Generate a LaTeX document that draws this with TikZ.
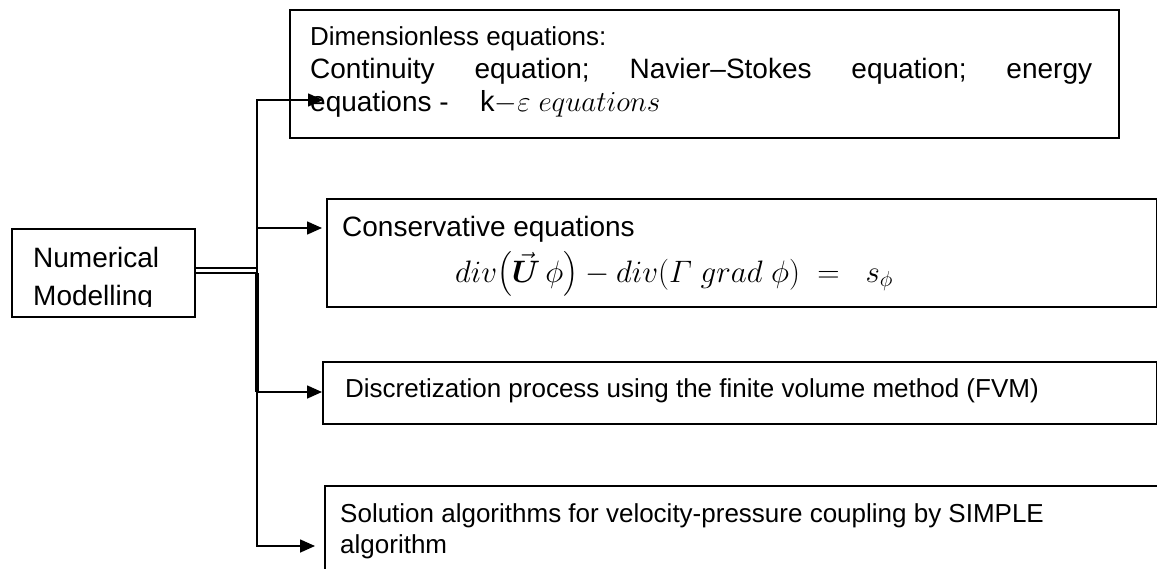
\RequirePackage{fix-cm}
\documentclass[tikz,border=0pt]{standalone}
\usepackage{amsmath}
\usepackage{fontspec}
\setmainfont{Liberation Sans}
\usetikzlibrary{arrows.meta}
\begin{document}
\begin{tikzpicture}[x=1pt,y=-1pt,
  box/.style={draw,line width=1.6pt,rectangle,inner sep=0pt,anchor=north west},
  txt/.style={anchor=base west,inner sep=0pt,font=\fontsize{28}{34}\selectfont},
  stxt/.style={anchor=base west,inner sep=0pt,font=\fontsize{26}{32}\selectfont},
  conn/.style={line width=1.6pt},
  trunk/.style={line width=3.6pt},
  arr/.style={line width=1.6pt,-{Triangle[length=15pt,width=13pt]}}]
\useasboundingbox (0,0) rectangle (1157,568);
\clip (0,0) rectangle (1157,568);
% boxes
\node[box,minimum width=183pt,minimum height=88pt] (num) at (11,228) {};
\node[box,minimum width=829pt,minimum height=128pt] (b1) at (289,9) {};
\node[box,minimum width=830pt,minimum height=108pt] (b2) at (326,198) {};
\node[box,minimum width=834pt,minimum height=62pt] (b3) at (322,361) {};
\node[box,minimum width=860pt,minimum height=110pt] (b4) at (324,485) {};
% texts
\begin{scope}
\clip (11,228) rectangle (194,306);
\node[txt] (numA) at (33,267) {Numerical};
\node[txt] (numB) at (33,305) {Modelling};
\end{scope}
\node[stxt] (l1) at (310,45) {Dimensionless equations:};
\node[txt] (l2) at (310,78) {\hbox to 782pt{Continuity\hfill equation;\hfill Navier–Stokes\hfill equation;\hfill energy}};
\node[txt] (l3a) at (310,111) {equations -};
\node[anchor=base west,inner sep=0pt,font=\fontsize{29}{35}\selectfont] (l3b) at (480,111) {k$-\varepsilon\ equations$};
\node[txt] (c1) at (342,236) {Conservative equations};
\node[anchor=base west,inner sep=0pt,font=\fontsize{31}{37}\selectfont] (c2) at (455,282)
  {$div\bigl(\vec{\boldsymbol{U}}\,\phi\bigr) - div(\varGamma\;grad\;\phi)\;=\;\;s_{\phi}$};
\node[stxt] (d1) at (345,397) {Discretization process using the finite volume method (FVM)};
\node[stxt] (s1) at (340,522) {Solution algorithms for velocity-pressure coupling by SIMPLE};
\node[stxt] (s2) at (340,553) {algorithm};
% connectors
\coordinate (jA) at (257,268);
\coordinate (jB) at (257,273);
\coordinate (t1) at (257,100);
\coordinate (t2) at (257,228);
\coordinate (t3) at (257,392);
\coordinate (t4) at (257,546);
\coordinate (a1) at (323,100);
\coordinate (a2) at (322,228);
\coordinate (a3) at (322,392);
\coordinate (a4) at (315,546);
\draw[line width=1.4pt] (num.east |- jA) -- (jA);
\draw[line width=2.6pt] (num.east |- jB) -- (jB);
\draw[conn,line cap=rect] (t1) -- (t4);
\draw[trunk] (jB) -- (t3);
\draw[arr] (t1) -- (a1);
\draw[arr] (t2) -- (a2);
\draw[arr] (t3) -- (a3);
\draw[arr] (t4) -- (a4);
\end{tikzpicture}
\end{document}
